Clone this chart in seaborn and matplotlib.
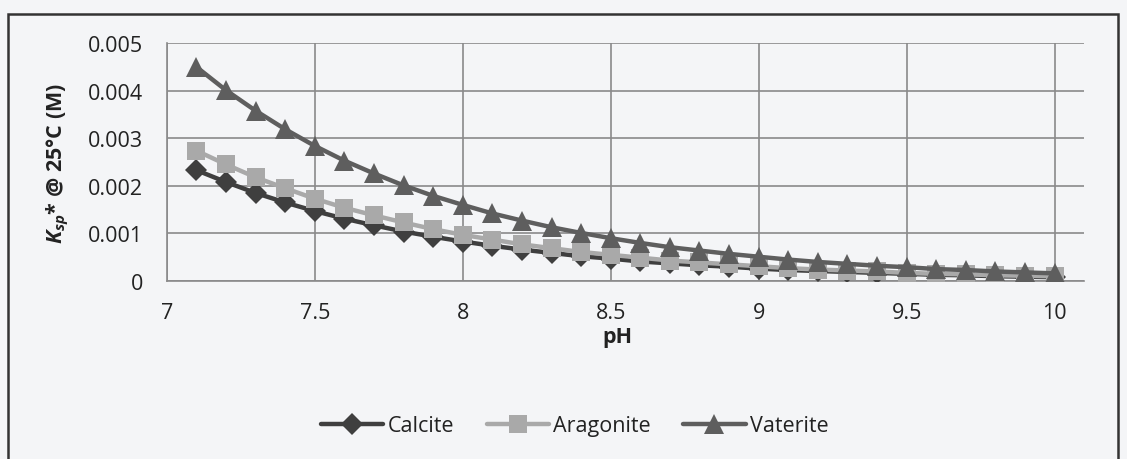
import matplotlib
matplotlib.use("Agg")
import matplotlib.pyplot as plt
import seaborn as sns
import pandas as pd
from matplotlib.patches import Rectangle

# pH values (x axis)
ph = [7.1, 7.2, 7.3, 7.4, 7.5, 7.6, 7.7, 7.8, 7.9, 8.0,
      8.1, 8.2, 8.3, 8.4, 8.5, 8.6, 8.7, 8.8, 8.9, 9.0,
      9.1, 9.2, 9.3, 9.4, 9.5, 9.6, 9.7, 9.8, 9.9, 10.0]

# Conditional solubility products Ksp* at 25 °C (M)
calcite = [0.00233, 0.00208, 0.00185, 0.00165, 0.00147, 0.00131, 0.00117, 0.00104, 0.00093, 0.00083,
           0.00074, 0.00066, 0.00059, 0.00052, 0.00047, 0.00041, 0.00037, 0.00033, 0.00030, 0.00026,
           0.00023, 0.00021, 0.00019, 0.00017, 0.00015, 0.00013, 0.00012, 0.00010, 0.00009, 0.00008]
aragonite = [0.00274, 0.00245, 0.00218, 0.00195, 0.00173, 0.00154, 0.00138, 0.00123, 0.00109, 0.00097,
             0.00087, 0.00077, 0.00069, 0.00061, 0.00055, 0.00049, 0.00043, 0.00039, 0.00035, 0.00031,
             0.00027, 0.00024, 0.00022, 0.00020, 0.00017, 0.00015, 0.00014, 0.00012, 0.00011, 0.00010]
vaterite = [0.00450, 0.00401, 0.00358, 0.00319, 0.00284, 0.00253, 0.00226, 0.00201, 0.00179, 0.00160,
            0.00142, 0.00127, 0.00113, 0.00101, 0.00090, 0.00080, 0.00071, 0.00064, 0.00057, 0.00051,
            0.00045, 0.00040, 0.00036, 0.00032, 0.00029, 0.00025, 0.00023, 0.00020, 0.00018, 0.00016]

series_names = ["Calcite", "Aragonite", "Vaterite"]
x_ticks = [7, 7.5, 8, 8.5, 9, 9.5, 10]
y_ticks = [0, 0.001, 0.002, 0.003, 0.004, 0.005]
y_tick_labels = ["0", "0.001", "0.002", "0.003", "0.004", "0.005"]

df = pd.DataFrame({
    "pH": ph * 3,
    "Ksp": calcite + aragonite + vaterite,
    "Mineral": [n for n, s in zip(series_names, [calcite, aragonite, vaterite]) for _ in s],
})

sns.set_theme(style="white")
plt.rcParams["font.family"] = ["Open Sans", "DejaVu Sans"]
plt.rcParams["mathtext.fontset"] = "custom"
plt.rcParams["mathtext.it"] = "Open Sans:italic:bold"
plt.rcParams["mathtext.rm"] = "Open Sans:bold"

bg = "#f4f5f7"
fs = 15.5
fig = plt.figure(figsize=(11.27, 4.6), dpi=100, facecolor=bg)
ax = fig.add_axes([0.148, 0.387, 0.814, 0.517])
ax.set_facecolor(bg)

palette = {"Calcite": "#3f3f3f", "Aragonite": "#a9a9a9", "Vaterite": "#5e5e5e"}
markers = {"Calcite": "D", "Aragonite": "s", "Vaterite": "^"}
sizes = {"Calcite": 11.5, "Aragonite": 13.5, "Vaterite": 14}

for name in series_names:
    sub = df[df["Mineral"] == name]
    sns.lineplot(data=sub, x="pH", y="Ksp", ax=ax, color=palette[name],
                 marker=markers[name], markersize=sizes[name], linewidth=3.2,
                 markeredgewidth=0, label=name, zorder=3)

ax.set_xlim(7, 10.1)
ax.set_ylim(0, 0.005)
ax.set_xticks(x_ticks)
ax.set_xticklabels([f"{t:g}" for t in x_ticks])
ax.set_yticks(y_ticks)
ax.set_yticklabels(y_tick_labels)
ax.tick_params(axis="x", length=0, pad=15, labelsize=fs, colors="#222222")
ax.tick_params(axis="y", length=0, pad=17, labelsize=fs, colors="#222222")
ax.grid(True, color="#8a8a8a", linewidth=1.2)

for side in ["top", "right"]:
    ax.spines[side].set_visible(False)
for side in ["left", "bottom"]:
    ax.spines[side].set_color("#8a8a8a")
    ax.spines[side].set_linewidth(1.2)

ax.set_xlabel("pH", fontsize=fs, fontweight="bold", color="#222222")
ax.set_ylabel(r"$K_{sp}$* @ 25°C (M)", fontsize=fs, fontweight="bold", color="#222222")
ax.xaxis.set_label_coords(0.491, -0.19)
ax.yaxis.set_label_coords(-0.104, 0.5)

leg = ax.legend(loc="center", bbox_to_anchor=(0.51, 0.072), bbox_transform=fig.transFigure,
                ncol=3, frameon=False, fontsize=fs, handlelength=2.9, handletextpad=0.2,
                columnspacing=1.5)
for t in leg.get_texts():
    t.set_color("#222222")

# chart frame
fig.patches.append(Rectangle((0.007, -0.05), 0.985, 1.017, transform=fig.transFigure,
                             fill=False, edgecolor="#333333", linewidth=1.8))

fig.savefig("out.png", dpi=100, facecolor=bg)
